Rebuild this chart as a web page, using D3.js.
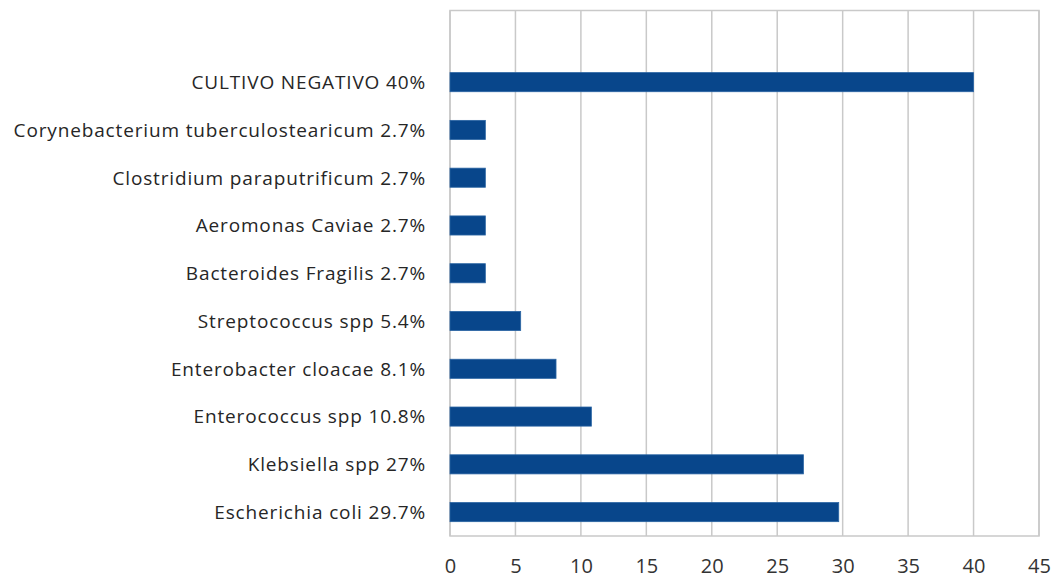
<!DOCTYPE html>
<html>
<head>
<meta charset="utf-8">
<script src="https://cdn.jsdelivr.net/npm/d3@7"></script>
<style>
  html, body { margin: 0; padding: 0; background: #fff; }
  #root { width: 1056px; height: 580px; }
</style>
</head>
<body>
<div id="root"></div>
<script>
// categories top to bottom (first row is blank in the source sheet)
const categories = [
  "",
  "CULTIVO NEGATIVO 40%",
  "Corynebacterium tuberculostearicum 2.7%",
  "Clostridium paraputrificum 2.7%",
  "Aeromonas Caviae 2.7%",
  "Bacteroides Fragilis 2.7%",
  "Streptococcus spp 5.4%",
  "Enterobacter cloacae 8.1%",
  "Enterococcus spp 10.8%",
  "Klebsiella spp 27%",
  "Escherichia coli 29.7%",
]
const values = [null, 40, 2.7, 2.7, 2.7, 2.7, 5.4, 8.1, 10.8, 27, 29.7]
const xTicks = [0, 5, 10, 15, 20, 25, 30, 35, 40, 45]

function drawBarChart() {
  const ROOT_ELEM = d3.select("#root")
  ROOT_ELEM.selectAll("*").remove()

  const width = 1056
  const height = 580
  const margin = { top: 10.5, right: 17, bottom: 44, left: 450 }
  const boundedWidth = width - margin.left - margin.right
  const boundedHeight = height - margin.top - margin.bottom

  const wrapper = ROOT_ELEM.append("svg")
    .attr("width", width)
    .attr("height", height)

  const bounds = wrapper.append("g")
    .attr("transform", `translate(${margin.left}, ${margin.top})`)

  const xScale = d3.scaleLinear()
    .domain([0, 45])
    .range([0, boundedWidth])

  const yScale = d3.scaleBand()
    .domain(categories)
    .range([0, boundedHeight])
    .paddingInner(0.6)
    .paddingOuter(0.3)

  // gridlines
  bounds.append("g")
    .selectAll("line")
    .data(xTicks)
    .join("line")
    .attr("x1", d => xScale(d))
    .attr("x2", d => xScale(d))
    .attr("y1", 0)
    .attr("y2", boundedHeight)
    .attr("stroke", "#c9c9c9")
    .attr("stroke-width", 1.5)

  // plot frame
  bounds.append("rect")
    .attr("x", 0)
    .attr("y", 0)
    .attr("width", boundedWidth)
    .attr("height", boundedHeight)
    .attr("fill", "none")
    .attr("stroke", "#c9c9c9")
    .attr("stroke-width", 1.5)

  // bars
  bounds.append("g")
    .selectAll("rect")
    .data(categories.map((c, i) => ({ c, v: values[i] })).filter(d => d.v != null))
    .join("rect")
    .attr("x", 0)
    .attr("y", d => yScale(d.c))
    .attr("width", d => xScale(d.v))
    .attr("height", yScale.bandwidth())
    .attr("fill", "#08468b")
    .attr("stroke", "#2a64a3")
    .attr("stroke-width", 0.8)

  // category labels
  bounds.append("g")
    .selectAll("text")
    .data(categories.filter(c => c !== ""))
    .join("text")
    .attr("x", -24)
    .attr("y", d => yScale(d) + yScale.bandwidth() / 2)
    .attr("dy", "0.36em")
    .attr("text-anchor", "end")
    .attr("fill", "#262626")
    .style("font-family", "'Open Sans', sans-serif")
    .style("font-size", "19px")
    .style("letter-spacing", "0.85px")
    .text(d => d)

  // x axis labels
  const xAxisGenerator = d3.axisBottom(xScale)
    .tickValues(xTicks)
    .tickSize(0)
    .tickPadding(23)

  const xAxis = bounds.append("g")
    .attr("transform", `translate(0, ${boundedHeight})`)
    .call(xAxisGenerator)
  xAxis.select(".domain").remove()
  xAxis.selectAll("text")
    .attr("fill", "#333")
    .style("font-family", "'Open Sans', sans-serif")
    .style("font-size", "20px")
}

drawBarChart()
</script>
</body>
</html>
